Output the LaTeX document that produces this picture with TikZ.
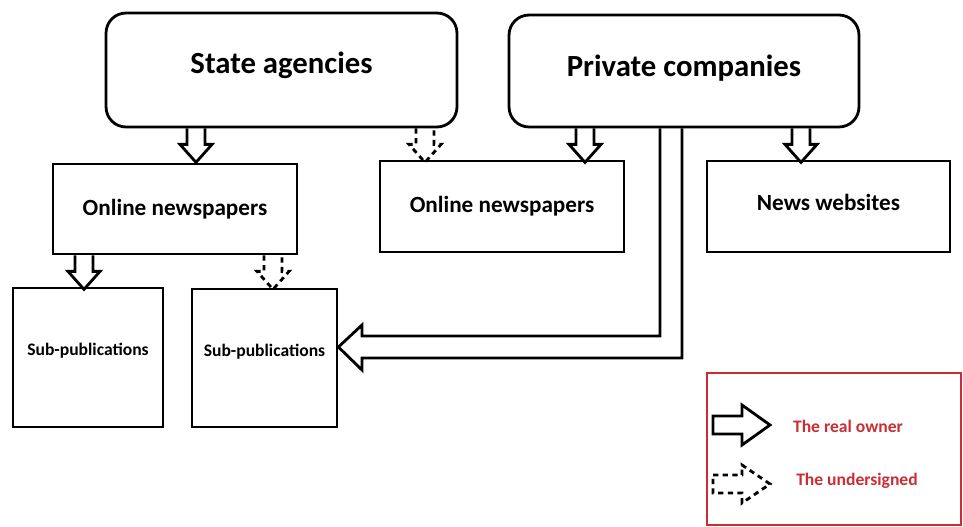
\documentclass[tikz,border=0pt]{standalone}
\usepackage{fontspec}
\setmainfont{Carlito}
\definecolor{legendred}{RGB}{204,45,52}
\tikzset{
  pics/downblock/.style={code={
    \draw[#1] (-9,0) -- (-9,16) -- (-16,16) -- (0,34) -- (16,16) -- (9,16) -- (9,0);
  }},
  pics/downblock/.default={}
}
\begin{document}
\begin{tikzpicture}[
        x=0.02cm, y=-0.02cm, line width=1.6pt,
        owner/.style={rectangle, draw, rounded corners=0.4cm, inner sep=0pt, font=\bfseries\fontsize{17.5}{20}\selectfont},
        outlet/.style={rectangle, draw, inner sep=0pt, font=\bfseries\fontsize{13.2}{16}\selectfont},
        sub/.style={rectangle, draw, inner sep=0pt, text depth=9pt, font=\bfseries\fontsize{10}{12}\selectfont},
        legend_text/.style={text=legendred, font=\bfseries\fontsize{10}{12}\selectfont},
        undersigned/.style={dash pattern=on 3pt off 2.5pt}
    ]
        \useasboundingbox (0,0) rectangle (963,527);

        % Owners
        \node[owner, text depth=8pt, minimum width=7.02cm, minimum height=2.28cm] (state) at (281.5,70) {State agencies\hspace{12pt}};
        \node[owner, text depth=6pt, minimum width=7.0cm, minimum height=2.24cm] (private) at (684,71) {Private companies};

        % Outlets
        \node[outlet, minimum width=4.88cm, minimum height=1.8cm] (online_left) at (175,209) {Online newspapers};
        \node[outlet, minimum width=4.88cm, minimum height=1.82cm] (online_mid) at (502,206.5) {Online newspapers};
        \node[outlet, text depth=5pt, minimum width=4.86cm, minimum height=1.82cm] (websites) at (828.5,206.5) {News websites};

        % Sub-publications
        \node[sub, minimum width=3.0cm, minimum height=2.78cm] (sub_left) at (88,357.5) {Sub-publications\hspace{6pt}};
        \node[sub, minimum width=2.9cm, minimum height=2.76cm] (sub_mid) at (264.5,358) {Sub-publications};

        % Block arrows between the levels
        \pic at (state.south -| 196,0) {downblock};
        \pic at (state.south -| 425,0) {downblock=undersigned};
        \pic at (private.south -| 585,0) {downblock};
        \pic at (private.south -| 801,0) {downblock};
        \pic at (online_left.south -| 84,0) {downblock};
        \pic at (online_left.south -| 273,0) {downblock=undersigned};

        % Bent arrow from private companies to the sub-publications
        \draw (private.south -| 660,0) -- (660,336) -- (362,336) -- (362,325)
            -- (sub_mid.east |- 0,347) -- (362,370) -- (362,358) -- (682,358)
            -- (private.south -| 682,0);

        % Legend
        \node[draw=legendred, minimum width=5.08cm, minimum height=3.04cm] (legend) at (834,449) {};
        \draw (713,416) -- (742,416) -- (742,405) -- (770,425) -- (742,445) -- (742,434) -- (713,434) -- cycle;
        \draw[undersigned] (713,475) -- (742,475) -- (742,465) -- (770,484) -- (742,503) -- (742,493) -- (713,493) -- cycle;
        \node[legend_text] (real_owner) at (848,426) {The real owner};
        \node[legend_text] (undersigned_text) at (857,481) {The undersigned};

    \end{tikzpicture}
\end{document}
